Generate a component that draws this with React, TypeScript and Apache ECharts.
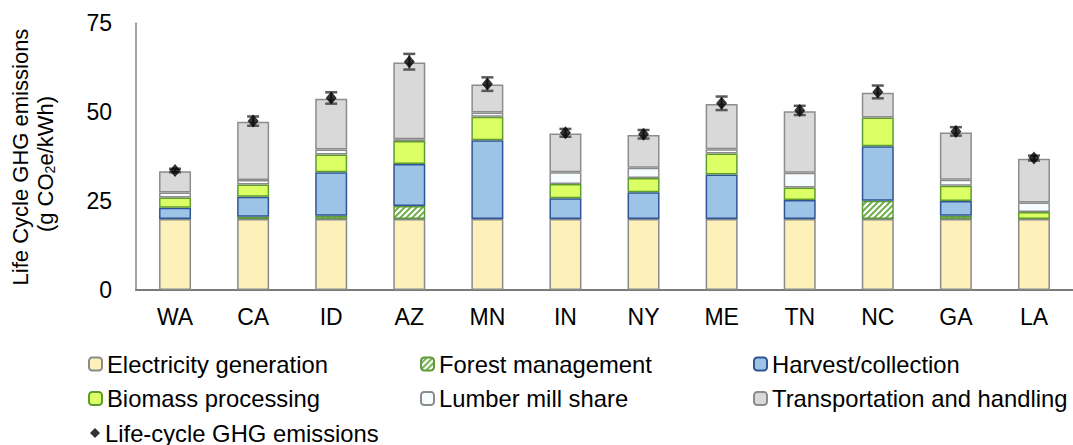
import React, { useEffect, useRef } from "react";
import * as echarts from "echarts";

const categories = ["WA", "CA", "ID", "AZ", "MN", "IN", "NY", "ME", "TN", "NC", "GA", "LA"];
const electricity = [20, 20, 20, 20, 20, 20, 20, 20, 20, 20, 20, 20];
const forest = [0, 0.6, 0.9, 3.6, 0, 0, 0, 0, 0, 5.1, 0.9, 0];
const harvest = [3.1, 5.6, 12.2, 11.8, 22.1, 5.8, 7.5, 12.5, 5.3, 15.3, 4.1, 0];
const biomass = [2.9, 3.5, 5.0, 6.5, 6.6, 4.0, 4.0, 5.9, 3.5, 8.1, 4.3, 1.9];
const lumber = [1.4, 1.2, 1.4, 0.5, 1.2, 3.3, 2.9, 1.2, 4.2, 0, 1.7, 2.7];
const transport = [6.0, 16.4, 14.3, 21.6, 7.9, 10.9, 9.2, 12.7, 17.3, 7.0, 13.3, 12.3];
const lifeCycle = [33.6, 47.5, 54.0, 64.2, 57.9, 44.2, 43.8, 52.5, 50.5, 55.7, 44.6, 37.1];
const errors = [0.5, 1.3, 1.6, 2.2, 1.9, 1.1, 1.2, 1.9, 1.3, 1.8, 1.2, 0.7];
const yTicks = [0, 25, 50, 75];

const FONT = "'Liberation Sans', Arial, sans-serif";
const FS = 23;
const LFS = 23.8;

function makeHatch(): string {
  const c = document.createElement("canvas");
  c.width = 6;
  c.height = 6;
  const ctx = c.getContext("2d")!;
  ctx.fillStyle = "#ffffff";
  ctx.fillRect(0, 0, 6, 6);
  ctx.strokeStyle = "#72b04e";
  ctx.lineWidth = 2;
  ctx.beginPath();
  ctx.moveTo(-1, 7);
  ctx.lineTo(7, -1);
  ctx.moveTo(-4, 4);
  ctx.lineTo(4, -4);
  ctx.moveTo(2, 10);
  ctx.lineTo(10, 2);
  ctx.stroke();
  return c.toDataURL();
}

export default function App() {
  const ref = useRef<HTMLDivElement>(null);
  useEffect(() => {
    if (!ref.current) return;
    const chart = echarts.init(ref.current, undefined, { renderer: "svg" });
    const hatch = { image: makeHatch(), repeat: "repeat", imageWidth: 6, imageHeight: 6 };
    const nz = (a: number[]) => a.map((v) => (v === 0 ? null : v));
    const bar = (name: string, data: number[], color: any, border: string) => ({
      name,
      type: "bar",
      stack: "total",
      barWidth: 32,
      data: nz(data),
      itemStyle: { color, borderColor: border, borderWidth: 1.5 },
    });
    const legendText = { fontSize: LFS, lineHeight: 24, color: "#000", fontFamily: FONT };
    const option: any = {
      animation: false,
      textStyle: { fontFamily: FONT },
      grid: { left: 136, right: -5, top: 23.3, bottom: 155, containLabel: false },
      xAxis: {
        type: "category",
        data: categories,
        axisTick: { show: false },
        axisLine: { lineStyle: { color: "#7a7a7a", width: 2 } },
        axisLabel: { color: "#000", fontSize: FS, fontFamily: FONT, margin: 15 },
      },
      yAxis: {
        type: "value",
        min: 0,
        max: 75,
        interval: 25,
        splitLine: { show: false },
        axisTick: { show: false },
        axisLine: { show: true, lineStyle: { color: "#868686", width: 1.5 } },
        axisLabel: {
          color: "#000",
          fontSize: FS,
          fontFamily: FONT,
          margin: 24,
          formatter: (v: number) => (yTicks.includes(v) ? String(v) : ""),
        },
      },
      legend: [
        {
          data: ["Electricity generation", "Biomass processing"],
          orient: "vertical",
          left: 83,
          top: 347,
          itemWidth: 13,
          itemHeight: 13,
          itemGap: 10.5,
          textStyle: legendText,
        },
        {
          data: ["Forest management", "Lumber mill share"],
          orient: "vertical",
          left: 415,
          top: 347,
          itemWidth: 13,
          itemHeight: 13,
          itemGap: 10.5,
          textStyle: legendText,
        },
        {
          data: ["Harvest/collection", "Transportation and handling"],
          orient: "vertical",
          left: 748,
          top: 347,
          itemWidth: 13,
          itemHeight: 13,
          itemGap: 10.5,
          textStyle: legendText,
        },
        {
          data: ["Life-cycle GHG emissions"],
          orient: "vertical",
          left: 85,
          top: 416,
          itemWidth: 10,
          itemHeight: 10,
          textStyle: { fontSize: LFS, lineHeight: 23, color: "#000", fontFamily: FONT },
        },
      ],
      graphic: [
        {
          type: "text",
          x: 20,
          y: 157,
          rotation: Math.PI / 2,
          style: {
            text: "Life Cycle GHG emissions",
            fontSize: 22,
            fontFamily: FONT,
            fill: "#000",
            align: "center",
            verticalAlign: "middle",
          },
        },
        {
          type: "text",
          x: 45,
          y: 164,
          rotation: Math.PI / 2,
          style: {
            text: "(g CO{sub|2}e/kWh)",
            fontSize: 22,
            fontFamily: FONT,
            fill: "#000",
            align: "center",
            verticalAlign: "middle",
            lineHeight: 24,
            rich: {
              sub: { fontSize: 14, fontFamily: FONT, fill: "#000", verticalAlign: "bottom", lineHeight: 24 },
            },
          },
        },
      ],
      series: [
        bar("Electricity generation", electricity, "#fdf0b8", "#8a8a8a"),
        bar("Forest management", forest, hatch, "#5f9a3a"),
        bar("Harvest/collection", harvest, "#9dc3e6", "#2f5597"),
        bar("Biomass processing", biomass, "#dcff66", "#5e9c30"),
        bar("Lumber mill share", lumber, "#f7fcff", "#8c8c8c"),
        bar("Transportation and handling", transport, "#d9d9d9", "#8c8c8c"),
        {
          name: "errors",
          type: "custom",
          z: 5,
          data: lifeCycle.map((v, i) => [i, v, errors[i]]),
          renderItem: (params: any, api: any) => {
            const x = api.value(0);
            const v = api.value(1);
            const e = api.value(2);
            const hi = api.coord([x, v + e]);
            const lo = api.coord([x, v - e]);
            const w = 6;
            const st = { stroke: "#5a5a5a", lineWidth: 2 };
            const cap = { stroke: "#5a5a5a", lineWidth: 2.5 };
            return {
              type: "group",
              children: [
                { type: "line", shape: { x1: hi[0], y1: hi[1], x2: lo[0], y2: lo[1] }, style: st },
                { type: "line", shape: { x1: hi[0] - w, y1: hi[1], x2: hi[0] + w, y2: hi[1] }, style: cap },
                { type: "line", shape: { x1: lo[0] - w, y1: lo[1], x2: lo[0] + w, y2: lo[1] }, style: cap },
              ],
            };
          },
        },
        {
          name: "Life-cycle GHG emissions",
          type: "scatter",
          z: 6,
          symbol: "diamond",
          symbolSize: [11, 13],
          itemStyle: { color: "#000" },
          data: lifeCycle,
        },
      ],
    };
    chart.setOption(option);
    return () => chart.dispose();
  }, []);
  return (
    <div
      ref={ref}
      style={{ position: "fixed", left: 0, top: 0, width: 1073, height: 445, background: "#fff" }}
    />
  );
}
